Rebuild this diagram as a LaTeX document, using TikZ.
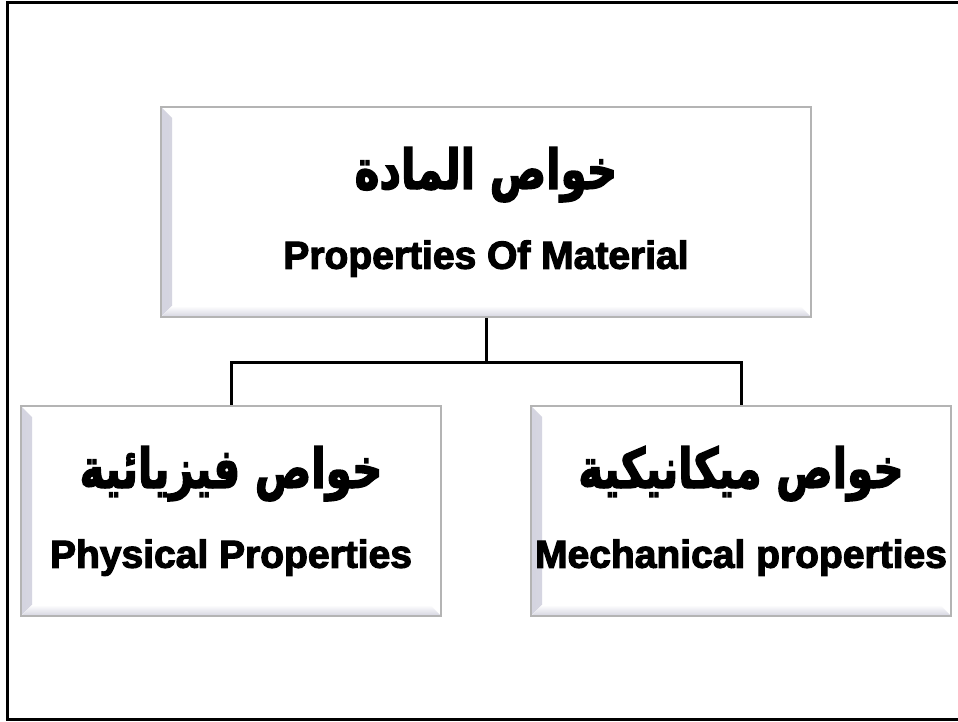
\documentclass[tikz,border=0pt]{standalone}
\usepackage{graphicx}
\usepackage{fontspec}
\setmainfont{Liberation Sans}[BoldFeatures={FakeBold=3}]
\newfontfamily\arabicfont[Script=Arabic,BoldFeatures={FakeBold=3}]{DejaVu Sans}
\TeXXeTstate=1
\definecolor{boxline}{RGB}{180,180,180}
\definecolor{bevel}{RGB}{212,212,224}
\newcommand{\artext}[1]{\scalebox{1}[1.3]{\arabicfont\fontsize{42}{78}\selectfont\bfseries\beginR #1\endR}}

\begin{document}
\begin{tikzpicture}[x=1pt,y=-1pt,
  prop node/.style={rectangle,draw=boxline,line width=1.5pt,fill=white,align=center,
    font=\fontsize{39}{80}\selectfont\bfseries,
    path picture={
      \fill[left color=bevel,right color=white] (path picture bounding box.south west) -- (path picture bounding box.north west)
        -- ([shift={(11pt,-11pt)}]path picture bounding box.north west) -- ([shift={(11pt,11pt)}]path picture bounding box.south west) -- cycle;
      \fill[bottom color=bevel,top color=white] (path picture bounding box.south west) -- (path picture bounding box.south east)
        -- ([shift={(-11pt,11pt)}]path picture bounding box.south east) -- ([shift={(11pt,11pt)}]path picture bounding box.south west) -- cycle;
    }},
  link/.style={line width=3pt,black}]
  \useasboundingbox (0,0) rectangle (958,722);
  \draw[line width=3pt] (962,3) -- (7,3) -- (7,719) -- (962,719);

  \node[prop node,minimum width=650,minimum height=210] (material) at (486,212) {\artext{خواص المادة}\\Properties Of Material};
  \node[prop node,minimum width=420,minimum height=210] (physical) at (231,511) {\artext{خواص فيزيائية}\\Physical Properties};
  \node[prop node,minimum width=420,minimum height=210] (mechanical) at (741,511) {\artext{خواص ميكانيكية}\\Mechanical properties};

  \coordinate (fork) at (486,362);
  \draw[link] (material.south) -- (fork) -| (physical.north);
  \draw[link] (fork) -| (mechanical.north);
\end{tikzpicture}
\end{document}
